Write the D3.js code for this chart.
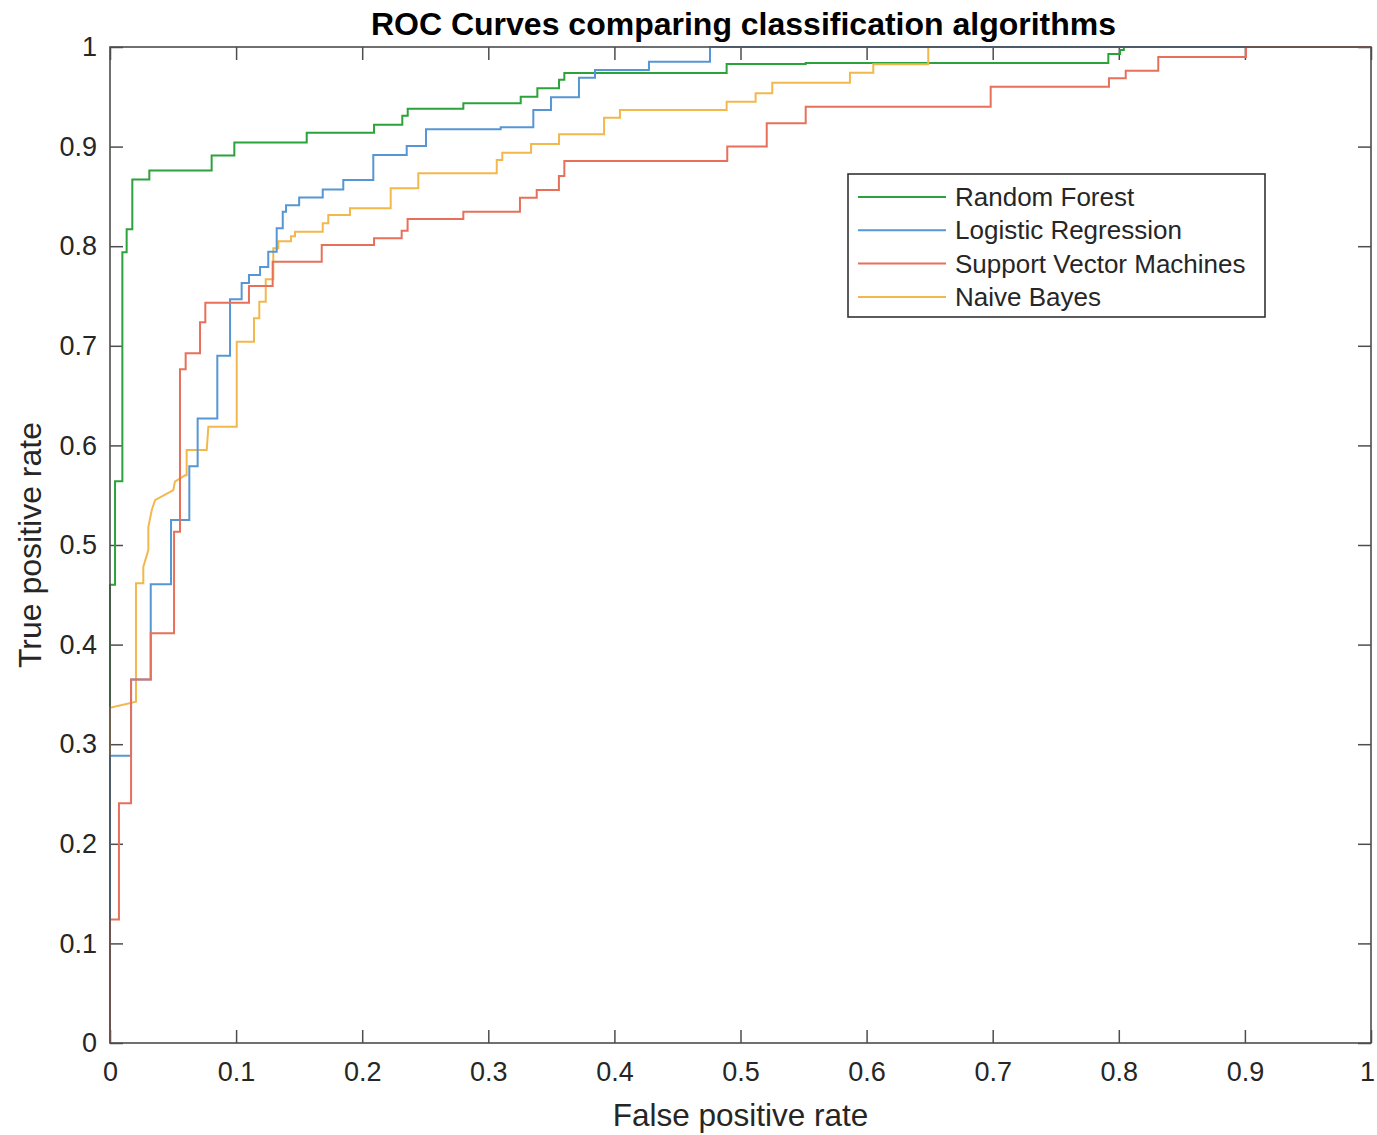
<!DOCTYPE html>
<html>
<head>
<meta charset="utf-8">
<script src="https://cdn.jsdelivr.net/npm/d3@7"></script>
<style>
  body { margin: 0; background: #fff; }
  svg { font-family: "Liberation Sans", Arial, sans-serif; }
</style>
</head>
<body>
<svg width="1377" height="1135"></svg>
<script>
var titleText = "ROC Curves comparing classification algorithms";
var xLabelText = "False positive rate";
var yLabelText = "True positive rate";

var xTicks = [0, 0.1, 0.2, 0.3, 0.4, 0.5, 0.6, 0.7, 0.8, 0.9, 1];
var yTicks = [0, 0.1, 0.2, 0.3, 0.4, 0.5, 0.6, 0.7, 0.8, 0.9, 1];

var seriesNames = ["Random Forest", "Logistic Regression", "Support Vector Machines", "Naive Bayes"];
var seriesColors = ["#2ca23a", "#5696d4", "#e8705a", "#f3b84c"];

// ROC points, [false positive rate, true positive rate]
var randomForest = [
  [0, 0], [0, 0.460], [0.004, 0.460], [0.004, 0.564], [0.0098, 0.564], [0.0098, 0.794],
  [0.0132, 0.794], [0.0132, 0.817], [0.0177, 0.817], [0.0177, 0.867], [0.0312, 0.867],
  [0.0312, 0.876], [0.0806, 0.876], [0.0806, 0.891], [0.0986, 0.891], [0.0986, 0.904],
  [0.156, 0.904], [0.156, 0.914], [0.2094, 0.914], [0.2094, 0.922], [0.2318, 0.922],
  [0.2318, 0.931], [0.2361, 0.931], [0.2361, 0.938], [0.2802, 0.938], [0.2802, 0.9435],
  [0.3257, 0.9435], [0.3257, 0.950], [0.3389, 0.950], [0.3389, 0.9585], [0.3561, 0.9585],
  [0.3561, 0.967], [0.3603, 0.967], [0.3603, 0.974], [0.489, 0.974], [0.489, 0.983],
  [0.5517, 0.983], [0.5517, 0.984], [0.7917, 0.984], [0.7917, 0.993], [0.801, 0.993],
  [0.801, 0.997], [0.804, 0.997], [0.804, 1], [1, 1]
];

var logisticRegression = [
  [0, 0], [0, 0.2885], [0.0167, 0.2885], [0.0167, 0.365], [0.0323, 0.365], [0.0323, 0.4605],
  [0.0484, 0.4605], [0.0484, 0.525], [0.0629, 0.525], [0.0629, 0.579], [0.0695, 0.579],
  [0.0695, 0.627], [0.0851, 0.627], [0.0851, 0.690], [0.0952, 0.690], [0.0952, 0.7467],
  [0.1044, 0.7467], [0.1044, 0.763], [0.1102, 0.763], [0.1102, 0.771], [0.119, 0.771],
  [0.119, 0.779], [0.1255, 0.779], [0.1255, 0.7945], [0.1322, 0.7945], [0.1322, 0.818],
  [0.137, 0.818], [0.137, 0.8347], [0.1396, 0.8347], [0.1396, 0.841], [0.150, 0.841],
  [0.150, 0.849], [0.1687, 0.849], [0.1687, 0.857], [0.185, 0.857], [0.185, 0.8665],
  [0.2088, 0.8665], [0.2088, 0.8916], [0.2353, 0.8916], [0.2353, 0.9006], [0.2506, 0.9006],
  [0.2506, 0.9173], [0.3098, 0.9173], [0.3098, 0.9194], [0.3357, 0.9194], [0.3357, 0.9367],
  [0.3497, 0.9367], [0.3497, 0.9495], [0.3719, 0.9495], [0.3719, 0.9692], [0.3846, 0.9692],
  [0.3846, 0.977], [0.4274, 0.977], [0.4274, 0.9853], [0.4758, 0.9853], [0.4758, 1], [1, 1]
];

var svm = [
  [0, 0], [0, 0.124], [0.0071, 0.124], [0.0071, 0.2406], [0.0167, 0.2406], [0.0167, 0.365],
  [0.0323, 0.365], [0.0323, 0.4113], [0.0508, 0.4113], [0.0508, 0.5134], [0.0555, 0.5134],
  [0.0555, 0.6764], [0.060, 0.6764], [0.060, 0.6925], [0.0714, 0.6925], [0.0714, 0.7236],
  [0.0756, 0.7236], [0.0756, 0.7433], [0.1102, 0.7433], [0.1102, 0.760], [0.129, 0.760],
  [0.129, 0.7845], [0.1679, 0.7845], [0.1679, 0.8012], [0.2094, 0.8012], [0.2094, 0.808],
  [0.2313, 0.808], [0.2313, 0.8156], [0.236, 0.8156], [0.236, 0.8273], [0.2802, 0.8273],
  [0.2802, 0.8347], [0.3251, 0.8347], [0.3251, 0.8487], [0.3384, 0.8487], [0.3384, 0.8564],
  [0.356, 0.8564], [0.356, 0.8705], [0.3603, 0.8705], [0.3603, 0.8855], [0.4895, 0.8855],
  [0.4895, 0.900], [0.5208, 0.900], [0.5208, 0.9234], [0.5517, 0.9234], [0.5517, 0.940],
  [0.6984, 0.940], [0.6984, 0.960], [0.7922, 0.960], [0.7922, 0.9685], [0.8055, 0.9685],
  [0.8055, 0.9762], [0.8313, 0.9762], [0.8313, 0.990], [0.9009, 0.990], [0.9009, 1], [1, 1]
];

var naiveBayes = [
  [0, 0], [0, 0.3366], [0.0206, 0.3427], [0.0206, 0.4615], [0.0264, 0.4615], [0.0264, 0.478],
  [0.0304, 0.495], [0.0304, 0.518], [0.0331, 0.535], [0.0357, 0.545], [0.0502, 0.555],
  [0.0515, 0.5636], [0.0595, 0.570], [0.0608, 0.570], [0.0608, 0.5954], [0.0767, 0.5954],
  [0.078, 0.6188], [0.1005, 0.6188], [0.1005, 0.704], [0.1142, 0.704], [0.1142, 0.7276],
  [0.1184, 0.7276], [0.1184, 0.7443], [0.1235, 0.7443], [0.1235, 0.7668], [0.1295, 0.7668],
  [0.1295, 0.7979], [0.1335, 0.7979], [0.1335, 0.805], [0.1435, 0.805], [0.1435, 0.810],
  [0.1467, 0.810], [0.1467, 0.8146], [0.1687, 0.8146], [0.1687, 0.823], [0.1731, 0.823],
  [0.1731, 0.8313], [0.1903, 0.8313], [0.1903, 0.838], [0.2226, 0.838], [0.2226, 0.8581],
  [0.2445, 0.8581], [0.2445, 0.8732], [0.3067, 0.8732], [0.3067, 0.8865], [0.3111, 0.8865],
  [0.3111, 0.8939], [0.3339, 0.8939], [0.3339, 0.9026], [0.3561, 0.9026], [0.3561, 0.9124],
  [0.3918, 0.9124], [0.3918, 0.929], [0.4044, 0.929], [0.4044, 0.9367], [0.489, 0.9367],
  [0.489, 0.9451], [0.512, 0.9451], [0.512, 0.9535], [0.5252, 0.9535], [0.5252, 0.9642],
  [0.5868, 0.9642], [0.5868, 0.9742], [0.6053, 0.9742], [0.6053, 0.9826], [0.6489, 0.9826],
  [0.6489, 1], [1, 1]
];

var seriesData = [randomForest, logisticRegression, svm, naiveBayes];
// drawing order (last on top)
var drawOrder = [0, 3, 1, 2];

var svg = d3.select("svg"),
    margin = {top: 47, right: 6, bottom: 92, left: 110},
    width = +svg.attr("width") - margin.left - margin.right,
    height = +svg.attr("height") - margin.top - margin.bottom;

var x = d3.scaleLinear().domain([0, 1]).range([0, width]),
    y = d3.scaleLinear().domain([0, 1]).range([height, 0]);

var g = svg.append("g")
    .attr("transform", "translate(" + margin.left + "," + margin.top + ")");

var tickLen = 13, axisColor = "#4d4d4d", textColor = "#262626";

var fmt = function(d) { return d3.format("")(d); };

g.append("g")
    .attr("class", "axis axis--x")
    .attr("transform", "translate(0," + height + ")")
    .call(d3.axisBottom(x).tickValues(xTicks).tickSize(-tickLen).tickPadding(19).tickFormat(fmt));

// last x label sits on the window edge, nudge it in
g.selectAll(".axis--x .tick:last-of-type text").attr("dx", "-4");

g.append("g")
    .attr("class", "axis axis--y")
    .call(d3.axisLeft(y).tickValues(yTicks).tickSize(-tickLen).tickPadding(13).tickFormat(fmt));

g.append("g")
    .attr("class", "axis axis--top")
    .call(d3.axisTop(x).tickValues(xTicks).tickSize(-tickLen).tickFormat(""));

g.append("g")
    .attr("class", "axis axis--right")
    .attr("transform", "translate(" + width + ",0)")
    .call(d3.axisRight(y).tickValues(yTicks).tickSize(-tickLen).tickFormat(""));

g.selectAll(".axis .domain").remove();
g.selectAll(".axis line").attr("stroke", axisColor).attr("stroke-width", 1.5);
g.selectAll(".axis text")
    .attr("fill", textColor)
    .style("font-size", "27px");

// curves
var line = d3.line()
    .x(function(d) { return x(d[0]); })
    .y(function(d) { return y(d[1]); });

drawOrder.forEach(function(i) {
  g.append("path")
      .datum(seriesData[i])
      .attr("d", line)
      .attr("fill", "none")
      .attr("stroke", seriesColors[i])
      .attr("stroke-width", 2)
      .attr("stroke-linejoin", "miter");
});

// box
g.append("rect")
    .attr("width", width)
    .attr("height", height)
    .attr("fill", "none")
    .attr("stroke", axisColor)
    .attr("stroke-width", 1.6);

// title and labels
svg.append("text")
    .attr("x", margin.left + width / 2 + 3)
    .attr("y", 35)
    .attr("text-anchor", "middle")
    .style("font-size", "32px")
    .style("font-weight", "bold")
    .attr("fill", "#000")
    .text(titleText);

svg.append("text")
    .attr("x", margin.left + width / 2)
    .attr("y", 1126)
    .attr("text-anchor", "middle")
    .style("font-size", "31.5px")
    .attr("fill", textColor)
    .text(xLabelText);

svg.append("text")
    .attr("transform", "translate(41," + (margin.top + height / 2) + ") rotate(-90)")
    .attr("text-anchor", "middle")
    .style("font-size", "32px")
    .attr("fill", textColor)
    .text(yLabelText);

// legend
var legend = svg.append("g")
    .attr("transform", "translate(848,174)");

legend.append("rect")
    .attr("width", 417)
    .attr("height", 143)
    .attr("fill", "#fff")
    .attr("stroke", "#333")
    .attr("stroke-width", 1.6);

var rows = legend.selectAll(".legend-row")
    .data(seriesNames)
    .enter().append("g")
    .attr("class", "legend-row")
    .attr("transform", function(d, i) { return "translate(0," + (23 + i * 33.3) + ")"; });

rows.append("line")
    .attr("x1", 10).attr("x2", 98)
    .attr("stroke", function(d, i) { return seriesColors[i]; })
    .attr("stroke-width", 2);

rows.append("text")
    .attr("x", 107)
    .attr("dy", "0.35em")
    .style("font-size", "26px")
    .attr("fill", textColor)
    .text(function(d) { return d; });
</script>
</body>
</html>
